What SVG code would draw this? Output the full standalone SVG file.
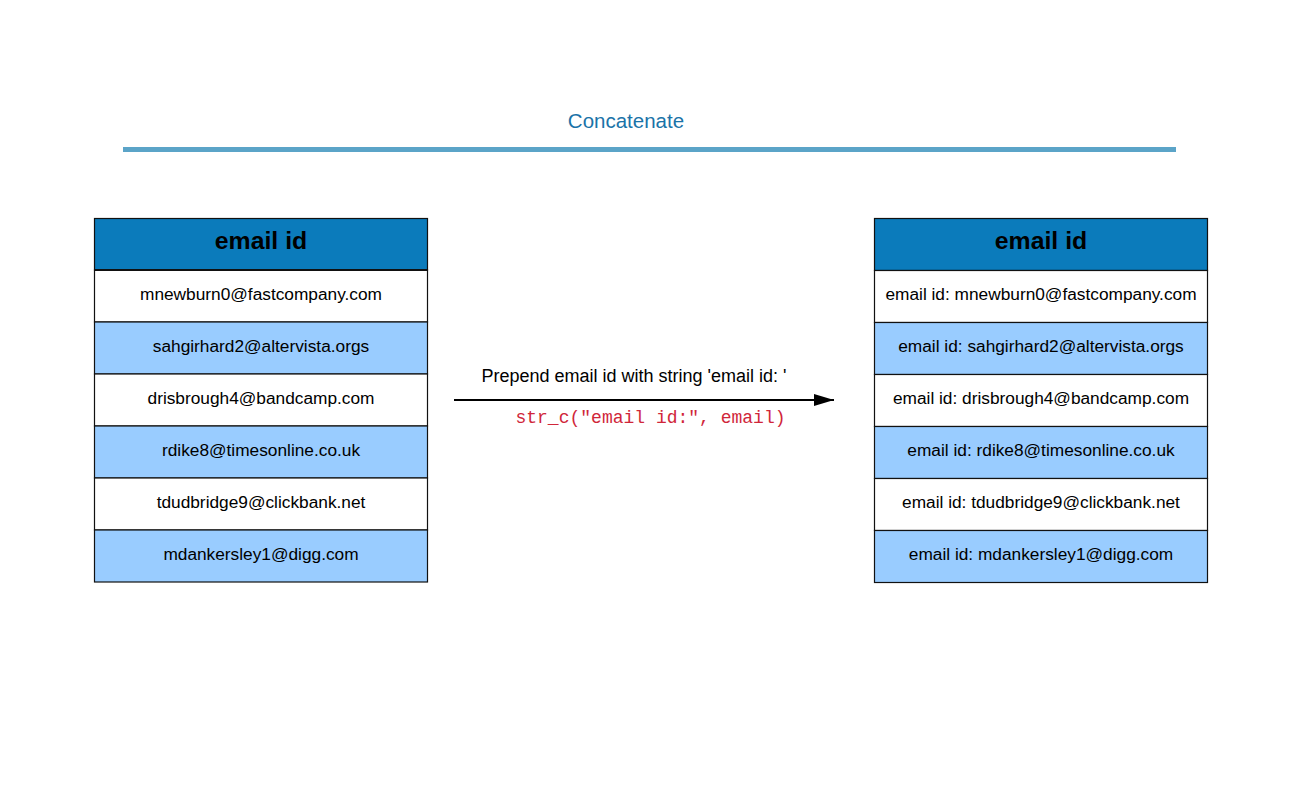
<svg xmlns="http://www.w3.org/2000/svg" width="1300" height="800" viewBox="0 0 1300 800">
<defs>
<style>
.hdr{fill:#0B7BBB;stroke:#111;stroke-width:1.2}
.w{fill:#FFFFFF;stroke:#111;stroke-width:1.2}
.b{fill:#99CCFF;stroke:#111;stroke-width:1.2}
.ht{font-family:"Liberation Sans",Arial,sans-serif;font-size:24.8px;font-weight:bold;fill:#000;text-anchor:middle}
.rt{font-family:"Liberation Sans",Arial,sans-serif;font-size:17.3px;fill:#000;text-anchor:middle}
</style>
<marker id="ah" markerWidth="20" markerHeight="12" refX="20" refY="6" orient="auto" markerUnits="userSpaceOnUse">
<path d="M0,0 L20,6 L0,12 Z" fill="#000"/>
</marker>
</defs>
<rect width="1300" height="800" fill="#fff"/>
<g id="title">
<text x="626" y="128" font-family="'Liberation Sans',Arial,sans-serif" font-size="20.5" fill="#1A73A8" text-anchor="middle">Concatenate</text>
<line x1="123" y1="149.5" x2="1176" y2="149.5" stroke="#5BA4C8" stroke-width="5"/>
</g>
<g id="left-table">
<rect class="hdr" x="94.5" y="218.5" width="333" height="51.5"/>
<text class="ht" x="261" y="249">email id</text>
<rect class="w" x="94.5" y="270" width="333" height="52"/>
<text class="rt" x="261" y="300">mnewburn0@fastcompany.com</text>
<rect class="b" x="94.5" y="322" width="333" height="52"/>
<text class="rt" x="261" y="352">sahgirhard2@altervista.orgs</text>
<rect class="w" x="94.5" y="374" width="333" height="52"/>
<text class="rt" x="261" y="404">drisbrough4@bandcamp.com</text>
<rect class="b" x="94.5" y="426" width="333" height="52"/>
<text class="rt" x="261" y="456">rdike8@timesonline.co.uk</text>
<rect class="w" x="94.5" y="478" width="333" height="52"/>
<text class="rt" x="261" y="508">tdudbridge9@clickbank.net</text>
<rect class="b" x="94.5" y="530" width="333" height="52"/>
<text class="rt" x="261" y="560">mdankersley1@digg.com</text>
<line x1="94.5" y1="270" x2="427.5" y2="270" stroke="#111" stroke-width="2.2"/>
</g>
<g id="right-table">
<rect class="hdr" x="874.5" y="218.5" width="333" height="52"/>
<text class="ht" x="1041" y="249">email id</text>
<rect class="w" x="874.5" y="270.5" width="333" height="52"/>
<text class="rt" x="1041" y="300">email id: mnewburn0@fastcompany.com</text>
<rect class="b" x="874.5" y="322.5" width="333" height="52"/>
<text class="rt" x="1041" y="352">email id: sahgirhard2@altervista.orgs</text>
<rect class="w" x="874.5" y="374.5" width="333" height="52"/>
<text class="rt" x="1041" y="404">email id: drisbrough4@bandcamp.com</text>
<rect class="b" x="874.5" y="426.5" width="333" height="52"/>
<text class="rt" x="1041" y="456">email id: rdike8@timesonline.co.uk</text>
<rect class="w" x="874.5" y="478.5" width="333" height="52"/>
<text class="rt" x="1041" y="508">email id: tdudbridge9@clickbank.net</text>
<rect class="b" x="874.5" y="530.5" width="333" height="52"/>
<text class="rt" x="1041" y="560">email id: mdankersley1@digg.com</text>
</g>
<g id="connectors">
<line x1="454" y1="400" x2="834" y2="400" stroke="#000" stroke-width="2" marker-end="url(#ah)"/>
<text x="634" y="382" font-family="'Liberation Sans',Arial,sans-serif" font-size="18" fill="#000" text-anchor="middle">Prepend email id with string 'email id: '</text>
<text x="650.5" y="423" font-family="'Liberation Mono','Courier New',monospace" font-size="18" fill="#D0263A" text-anchor="middle">str_c("email id:", email)</text>
</g>
</svg>
